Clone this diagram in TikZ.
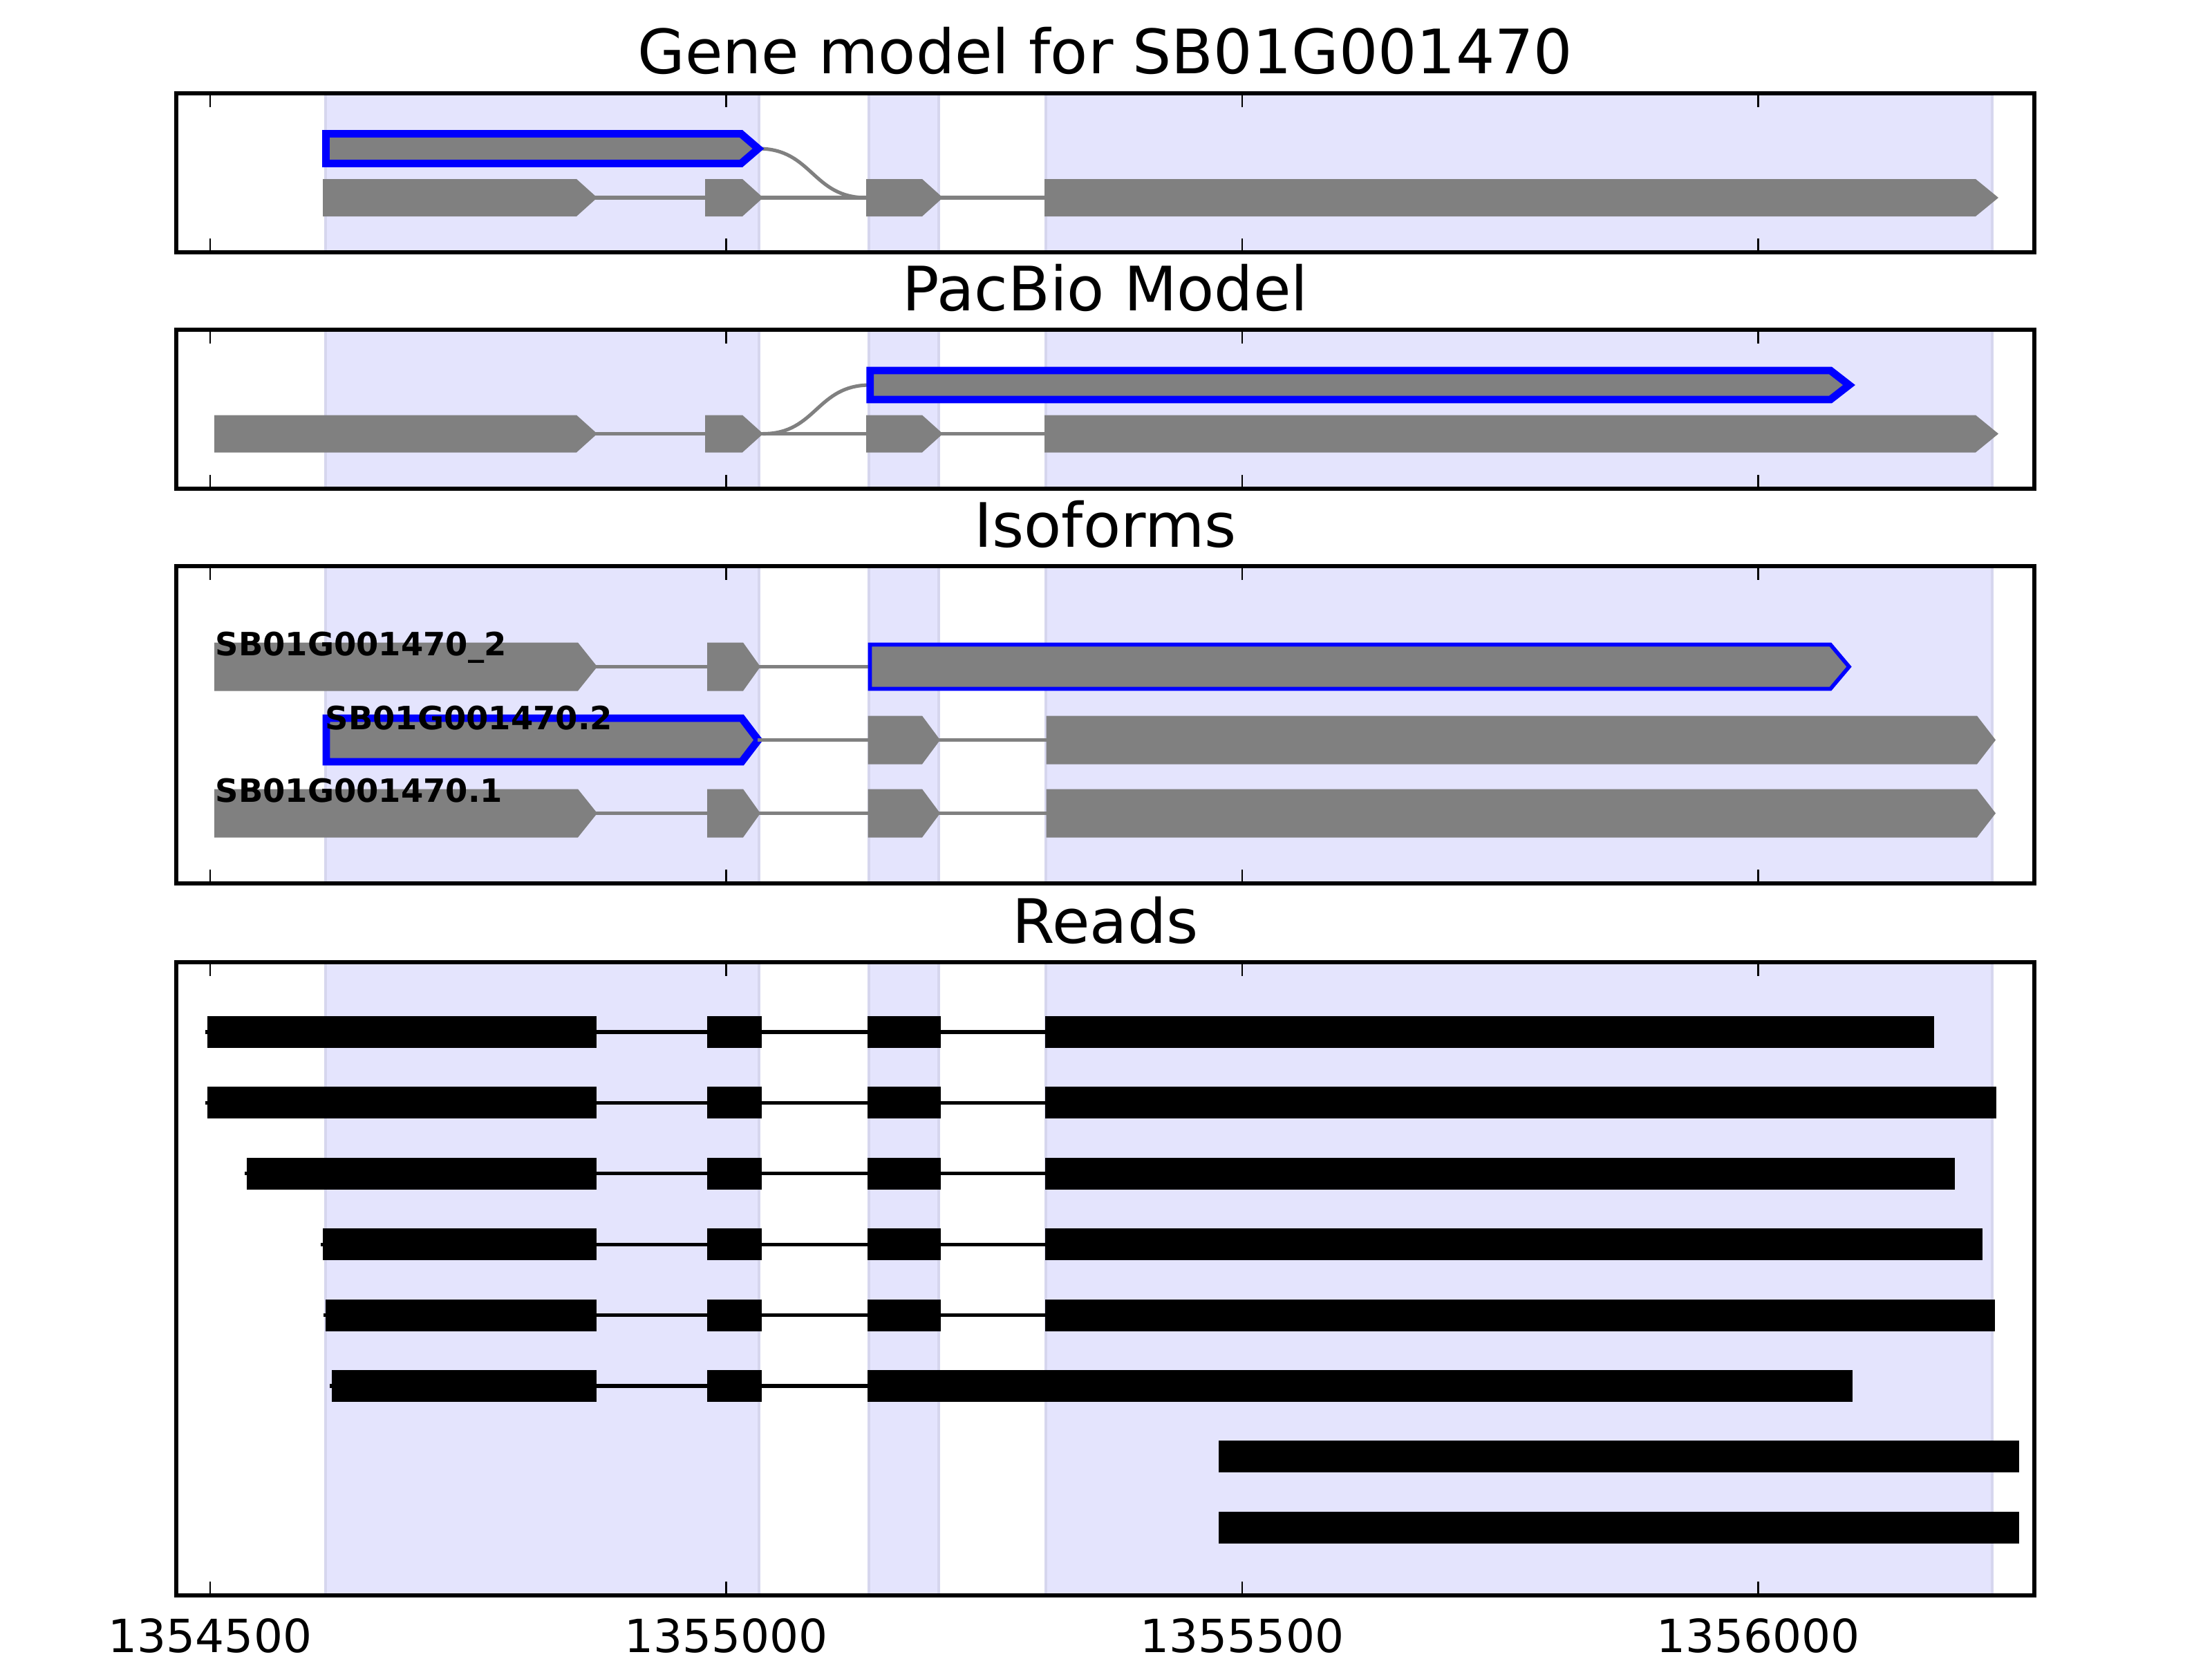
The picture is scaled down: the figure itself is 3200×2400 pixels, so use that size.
\documentclass[tikz,border=0pt]{standalone}
\usepackage{fontspec}
\setmainfont{DejaVu Sans}
\definecolor{spanfill}{RGB}{228,228,253}
\definecolor{spanedge}{RGB}{214,214,238}
\definecolor{exongray}{RGB}{128,128,128}
\newcommand\shades[2]{%
  \path[shade] (471,#1) rectangle (1098,#2);
  \path[shade] (1257,#1) rectangle (1358,#2);
  \path[shade] (1513,#1) rectangle (2882,#2);}
\newcommand\axframe[2]{%
  \foreach \tx in {304,1050.5,1797,2543.5} {%
    \draw[tickmark] ({\tx},#1) -- ({\tx},{#1+20});
    \draw[tickmark] ({\tx},#2) -- ({\tx},{#2-20});}
  \draw[frame] (255,#1) rectangle (2943,#2);}
\newcommand\ex[5]{%
  \fill[exongray] (#1,{#4-#5}) -- (#2,{#4-#5}) -- (#3,#4) -- (#2,{#4+#5}) -- (#1,{#4+#5}) -- cycle;}
\newcommand\hex[6]{%
  \draw[#1] (#2,{#5-#6}) -- (#3,{#5-#6}) -- (#4,#5) -- (#3,{#5+#6}) -- (#2,{#5+#6}) -- cycle;}
\newcommand\rd[3]{\fill[black] (#1,{#3-23}) rectangle (#2,{#3+23});}
\begin{document}
\begin{tikzpicture}[x=0.01cm,y=-0.01cm,
  frame/.style={draw=black,line width=1.55pt},
  tickmark/.style={draw=black,line width=0.75pt},
  shade/.style={fill=spanfill,draw=spanedge,line width=1pt},
  intron/.style={draw=exongray,line width=1.45pt},
  hl/.style={draw=blue,line width=3.1pt,fill=exongray,miter limit=10},
  hlthin/.style={draw=blue,line width=1.6pt,fill=exongray},
  readline/.style={draw=black,line width=1.45pt},
  ttl/.style={font=\fontsize{25.2}{30}\selectfont,anchor=base,inner sep=0},
  ticklab/.style={font=\fontsize{18.8}{22}\selectfont,anchor=base,inner sep=0},
  isolab/.style={font=\fontsize{13.2}{15}\selectfont\bfseries,anchor=base west,inner sep=0},
]
\useasboundingbox (0,0) rectangle (3200,2400);
\fill[white] (0,0) rectangle (3200,2400);

% ---------------- Panel 1: Gene model ----------------
\shades{135}{365}
\draw[intron] (1097,215) .. controls (1175,215) and (1175,286) .. (1253,286);
\draw[intron] (834,286) -- (1511,286);
\ex{467}{834}{864}{286}{27}
\ex{1020}{1074}{1104}{286}{27}
\ex{1253}{1334}{1364}{286}{27}
\ex{1511}{2858}{2891}{286}{27}
\hex{hl}{471.5}{1072}{1097}{215}{21.5}
\axframe{135}{365}
\node[ttl] (t1) at (1599,107) {Gene model for SB01G001470};

% ---------------- Panel 2: PacBio ----------------
\shades{477}{707}
\draw[intron] (1104,627.5) .. controls (1181,627.5) and (1181,557) .. (1258.7,557);
\draw[intron] (834,627.5) -- (1511,627.5);
\ex{310}{834}{864}{627.5}{27}
\ex{1020}{1074}{1104}{627.5}{27}
\ex{1253}{1334}{1364}{627.5}{27}
\ex{1511}{2858}{2891}{627.5}{27}
\hex{hl}{1258.7}{2648}{2675}{557}{21}
\axframe{477}{707}
\node[ttl] (t2) at (1599,449) {PacBio Model};

% ---------------- Panel 3: Isoforms ----------------
\shades{819}{1278}
% row 1
\draw[intron] (836,964.5) -- (1258,964.5);
\ex{310}{836}{864}{964.5}{35}
\ex{1023}{1075}{1100}{964.5}{35}
\hex{hlthin}{1258.5}{2648}{2675}{964.5}{32}
% row 2
\hex{hl}{472}{1073}{1097}{1070.5}{31.5}
\draw[intron] (1096,1070.5) -- (1513.6,1070.5);
\ex{1255.6}{1334}{1360}{1070.5}{35}
\ex{1513.6}{2860}{2887}{1070.5}{35}
% row 3
\draw[intron] (836,1176.5) -- (1513.6,1176.5);
\ex{310}{836}{864}{1176.5}{35}
\ex{1023}{1075}{1100}{1176.5}{35}
\ex{1255.6}{1334}{1360}{1176.5}{35}
\ex{1513.6}{2860}{2887}{1176.5}{35}
\node[isolab] (l1) at (311,948) {SB01G001470\_2};
\node[isolab] (l2) at (470,1055) {SB01G001470.2};
\node[isolab] (l3) at (311,1160.5) {SB01G001470.1};
\axframe{819}{1278}
\node[ttl] (t3) at (1599,791) {Isoforms};

% ---------------- Panel 4: Reads ----------------
\shades{1392}{2308}
\foreach \y/\a/\b in {1493/300/2798, 1595.4/300/2888, 1697.8/357/2828, 1800.2/467/2868, 1902.6/471/2886} {%
  \draw[readline] ({\a-3},\y) -- (1512,\y);
  \rd{\a}{863}{\y}
  \rd{1023}{1102}{\y}
  \rd{1255}{1361}{\y}
  \rd{1512}{\b}{\y}}
\draw[readline] (477,2005) -- (1255,2005);
\rd{480}{863}{2005}
\rd{1023}{1102}{2005}
\rd{1255}{2680}{2005}
\rd{1763}{2921}{2107.4}
\rd{1763}{2921}{2209.8}
\axframe{1392}{2308}
\node[ttl] (t4) at (1599,1364) {Reads};

% ---------------- x tick labels ----------------
\node[ticklab] (x1) at (304,2390) {1354500};
\node[ticklab] (x2) at (1050.5,2390) {1355000};
\node[ticklab] (x3) at (1797,2390) {1355500};
\node[ticklab] (x4) at (2543.5,2390) {1356000};
\end{tikzpicture}
\end{document}
